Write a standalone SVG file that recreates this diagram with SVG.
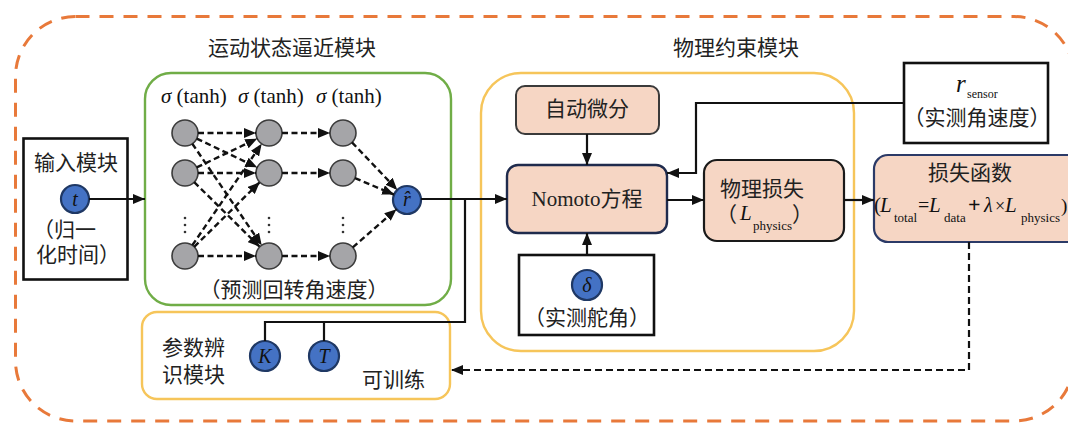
<svg xmlns="http://www.w3.org/2000/svg" width="1068" height="423" viewBox="0 0 1068 423">
<defs>
<style>
.cjk{font-family:"Liberation Serif","Noto Sans CJK SC",serif;font-size:21px;fill:#222}
.ser{font-family:"Liberation Serif",serif;fill:#111}
.it{font-style:italic}
.neu{fill:#A5A5A8;stroke:#3c3c3c;stroke-width:1.6}
.blue{fill:#4472C4;stroke:#1F3864;stroke-width:2.2}
.box{fill:#fff;stroke:#111;stroke-width:2.6}
.peach{fill:#F6D6C4}
.ln{fill:none;stroke:#111;stroke-width:2.2}
.dl{fill:none;stroke:#111;stroke-width:2.4;stroke-dasharray:6 3.5}
.dot{fill:#333}
</style>
<marker id="ah" markerWidth="12" markerHeight="10" refX="12" refY="5" orient="auto" markerUnits="userSpaceOnUse">
<path d="M0,0 L12,5 L0,10 z" fill="#111"/>
</marker>
<marker id="ahs" markerWidth="12" markerHeight="10" refX="12" refY="5" orient="auto" markerUnits="userSpaceOnUse">
<path d="M0,0 L12,5 L0,10 z" fill="#111"/>
</marker>
</defs>

<!-- outer dashed frame -->
<rect x="15.5" y="16.5" width="1058.5" height="404.5" rx="60" fill="none" stroke="#E8793A" stroke-width="3" stroke-dasharray="14 10"/>

<text class="cjk" x="292" y="55" text-anchor="middle">运动状态逼近模块</text>
<text class="cjk" x="736" y="55" text-anchor="middle">物理约束模块</text>

<!-- input module -->
<g id="input">
<rect class="box" x="23.5" y="138.5" width="104" height="141"/>
<text class="cjk" x="76" y="170" text-anchor="middle">输入模块</text>
<circle class="blue" cx="75" cy="199" r="14"/>
<text class="ser it" x="75" y="206" font-size="20" text-anchor="middle">t</text>
<text class="cjk" x="33" y="237">（归一</text>
<text class="cjk" x="36" y="262">化时间）</text>
</g>

<!-- motion state approximation module -->
<g id="nn">
<rect x="145" y="73" width="306" height="232" rx="26" fill="none" stroke="#70AD47" stroke-width="2.4"/>
<text class="ser" x="161" y="103" font-size="21"><tspan class="it">σ</tspan> (tanh)</text>
<text class="ser" x="238" y="103" font-size="21"><tspan class="it">σ</tspan> (tanh)</text>
<text class="ser" x="316" y="103" font-size="21"><tspan class="it">σ</tspan> (tanh)</text>
<circle class="neu" cx="185" cy="133" r="13"/>
<circle class="neu" cx="185" cy="173" r="13"/>
<circle class="neu" cx="185" cy="256" r="13"/>
<circle class="neu" cx="269" cy="133" r="13"/>
<circle class="neu" cx="269" cy="173" r="13"/>
<circle class="neu" cx="269" cy="256" r="13"/>
<circle class="neu" cx="343" cy="133" r="13"/>
<circle class="neu" cx="343" cy="173" r="13"/>
<circle class="neu" cx="343" cy="256" r="13"/>
<circle class="dot" cx="185" cy="218" r="1.3"/><circle class="dot" cx="185" cy="225" r="1.3"/><circle class="dot" cx="185" cy="232" r="1.3"/>
<circle class="dot" cx="269" cy="218" r="1.3"/><circle class="dot" cx="269" cy="225" r="1.3"/><circle class="dot" cx="269" cy="232" r="1.3"/>
<circle class="dot" cx="343" cy="218" r="1.3"/><circle class="dot" cx="343" cy="225" r="1.3"/><circle class="dot" cx="343" cy="232" r="1.3"/>
<circle class="blue" cx="407" cy="200" r="14"/>
<text class="ser it" x="407" y="206" font-size="20" text-anchor="middle">r̂</text>
<text class="cjk" x="294" y="297" text-anchor="middle">（预测回转角速度）</text>
</g>

<!-- parameter identification module -->
<g id="params">
<rect x="142" y="312" width="308" height="87" rx="15" fill="none" stroke="#F6C55A" stroke-width="2.4"/>
<text class="cjk" x="162" y="355">参数辨</text>
<text class="cjk" x="162" y="382">识模块</text>
<circle class="blue" cx="265" cy="356" r="15"/>
<text class="ser it" x="265" y="363" font-size="20" text-anchor="middle">K</text>
<circle class="blue" cx="324" cy="356" r="15"/>
<text class="ser it" x="324" y="363" font-size="20" text-anchor="middle">T</text>
<text class="cjk" x="362" y="387">可训练</text>
</g>

<!-- physics constraint module -->
<g id="physics">
<rect x="481" y="73" width="373" height="278" rx="40" fill="none" stroke="#F6C55A" stroke-width="2.4"/>
</g>

<g id="autodiff">
<rect class="peach" x="516" y="86" width="143" height="48" rx="9" stroke="#3a3a3a" stroke-width="2"/>
<text class="cjk" x="587" y="116" text-anchor="middle">自动微分</text>
</g>

<g id="nomoto">
<rect class="peach" x="507" y="165" width="160" height="68" rx="11" stroke="#1F2B4D" stroke-width="2.4"/>
<text class="cjk" x="587" y="206" text-anchor="middle">Nomoto方程</text>
</g>

<g id="delta">
<rect class="box" x="519" y="255" width="135" height="80"/>
<circle class="blue" cx="587" cy="285" r="15"/>
<text class="ser it" x="587" y="292" font-size="20" text-anchor="middle">δ</text>
<text class="cjk" x="587" y="325" text-anchor="middle">（实测舵角）</text>
</g>

<g id="physloss">
<rect class="peach" x="704" y="160" width="140" height="81" rx="13" stroke="#1a1a1a" stroke-width="2.2"/>
<text class="cjk" x="762" y="196" text-anchor="middle">物理损失</text>
<text class="cjk"><tspan x="716" y="222">（</tspan><tspan class="it" x="740" y="220" font-family="Liberation Serif" fill="#111">L</tspan><tspan x="753" y="230" font-size="13" font-family="Liberation Serif" fill="#111">physics</tspan><tspan x="792" y="222">）</tspan></text>
</g>

<g id="rsensor">
<rect class="box" x="904" y="63" width="144" height="80"/>
<text class="ser"><tspan class="it" x="956" y="92" font-size="25">r</tspan><tspan x="967" y="98" font-size="12">sensor</tspan></text>
<text class="cjk" x="977" y="125" text-anchor="middle">（实测角速度）</text>
</g>

<g id="loss">
<rect class="peach" x="874" y="155" width="215" height="87" rx="14" stroke="#2B3A67" stroke-width="2.2"/>
<text class="cjk" x="970" y="180" text-anchor="middle">损失函数</text>
<text class="ser" font-size="21"><tspan x="874" y="212">(</tspan><tspan class="it" x="880" y="212">L</tspan><tspan x="894" y="222" font-size="13">total</tspan><tspan x="918" y="212" font-size="20">=</tspan><tspan class="it" x="929" y="212">L</tspan><tspan x="944" y="222" font-size="13">data</tspan><tspan x="968" y="212" font-size="22" font-weight="bold">+</tspan><tspan class="it" x="984" y="212" font-size="20">λ</tspan><tspan x="995" y="212" font-size="18">×</tspan><tspan class="it" x="1005" y="212">L</tspan><tspan x="1021" y="222" font-size="13">physics</tspan><tspan x="1061" y="212" font-size="19">)</tspan></text>
</g>

<!-- connectors -->
<g id="connectors">
<line class="ln" x1="89" y1="199" x2="145" y2="199" marker-end="url(#ah)"/>
<line class="dl" x1="198" y1="133" x2="256" y2="133" marker-end="url(#ahs)"/>
<line class="dl" x1="196.7" y1="138.6" x2="257.3" y2="167.4" marker-end="url(#ahs)"/>
<line class="dl" x1="192.3" y1="143.7" x2="261.7" y2="245.3" marker-end="url(#ahs)"/>
<line class="dl" x1="196.7" y1="167.4" x2="257.3" y2="138.6" marker-end="url(#ahs)"/>
<line class="dl" x1="198" y1="173" x2="256" y2="173" marker-end="url(#ahs)"/>
<line class="dl" x1="194.2" y1="182.1" x2="259.8" y2="246.9" marker-end="url(#ahs)"/>
<line class="dl" x1="192.3" y1="245.3" x2="261.7" y2="143.7" marker-end="url(#ahs)"/>
<line class="dl" x1="194.2" y1="246.9" x2="259.8" y2="182.1" marker-end="url(#ahs)"/>
<line class="dl" x1="198" y1="256" x2="256" y2="256" marker-end="url(#ahs)"/>
<line class="dl" x1="282" y1="133" x2="330" y2="133" marker-end="url(#ahs)"/>
<line class="dl" x1="282" y1="173" x2="330" y2="173" marker-end="url(#ahs)"/>
<line class="dl" x1="282" y1="256" x2="330" y2="256" marker-end="url(#ahs)"/>
<line class="dl" x1="352" y1="142.4" x2="397.3" y2="189.9" marker-end="url(#ahs)"/>
<line class="dl" x1="355" y1="178.1" x2="394.1" y2="194.6" marker-end="url(#ahs)"/>
<line class="dl" x1="352.8" y1="247.4" x2="396.5" y2="209.2" marker-end="url(#ahs)"/>
<line class="ln" x1="421" y1="199" x2="507" y2="199" stroke-width="2.6" marker-end="url(#ah)"/>
<path class="ln" d="M465,199 V322 H265 V341"/>
<path class="ln" d="M324,322 V341"/>
<line class="ln" x1="587" y1="134" x2="587" y2="165" marker-end="url(#ah)"/>
<line class="ln" x1="587" y1="255" x2="587" y2="233" marker-end="url(#ah)"/>
<path class="ln" d="M904,103 H696 V173 H667" marker-end="url(#ah)"/>
<line class="ln" x1="667" y1="200" x2="704" y2="200" marker-end="url(#ah)"/>
<line class="ln" x1="844" y1="200" x2="874" y2="200" marker-end="url(#ah)"/>
<path d="M969,242 V370 H451" fill="none" stroke="#111" stroke-width="2.2" stroke-dasharray="7 4" marker-end="url(#ah)"/>
</g>
</svg>
